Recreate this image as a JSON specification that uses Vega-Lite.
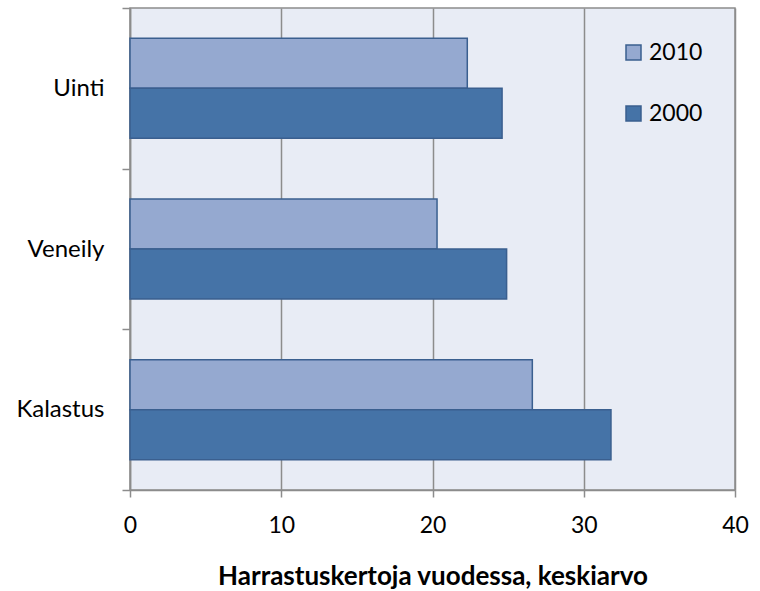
{
  "$schema": "https://vega.github.io/schema/vega-lite/v6.json",
  "width": 605,
  "height": 482,
  "autosize": {"type": "none"},
  "padding": {"left": 130, "top": 8, "right": 25, "bottom": 101},
  "background": "white",
  "config": {
    "font": "Lato",
    "view": {"fill": "#E8ECF5", "stroke": "#8C8C8C", "strokeWidth": 1.5}
  },
  "data": {
    "values": [
      {"laji": "Uinti", "vuosi": "2010", "arvo": 22.3},
      {"laji": "Uinti", "vuosi": "2000", "arvo": 24.6},
      {"laji": "Veneily", "vuosi": "2010", "arvo": 20.3},
      {"laji": "Veneily", "vuosi": "2000", "arvo": 24.9},
      {"laji": "Kalastus", "vuosi": "2010", "arvo": 26.6},
      {"laji": "Kalastus", "vuosi": "2000", "arvo": 31.8}
    ]
  },
  "mark": {"type": "bar", "stroke": "#3A5F8F", "strokeWidth": 1.5},
  "encoding": {
    "y": {
      "field": "laji",
      "type": "nominal",
      "sort": ["Uinti", "Veneily", "Kalastus"],
      "scale": {"paddingInner": 0, "paddingOuter": 0},
      "axis": {
        "title": null,
        "tickBand": "extent",
        "domainColor": "#8C8C8C",
        "domainWidth": 1.5,
        "tickColor": "#8C8C8C",
        "tickWidth": 1.5,
        "tickSize": 8,
        "labelPadding": 18,
        "labelFontSize": 24,
        "labelColor": "black",
        "grid": false
      }
    },
    "yOffset": {
      "field": "vuosi",
      "type": "nominal",
      "sort": ["2010", "2000"],
      "scale": {"paddingInner": 0, "paddingOuter": 0.607}
    },
    "x": {
      "field": "arvo",
      "type": "quantitative",
      "scale": {"domain": [0, 40], "nice": false},
      "axis": {
        "title": "Harrastuskertoja vuodessa, keskiarvo",
        "titleFontSize": 26,
        "titleFontWeight": "bold",
        "titleColor": "black",
        "titlePadding": 26,
        "values": [0, 10, 20, 30, 40],
        "grid": true,
        "gridColor": "#8C8C8C",
        "gridWidth": 1.5,
        "domainColor": "#8C8C8C",
        "domainWidth": 1.5,
        "tickColor": "#8C8C8C",
        "tickWidth": 1.5,
        "tickSize": 7,
        "labelPadding": 17,
        "labelFontSize": 23,
        "labelColor": "black",
        "labelFlush": false
      }
    },
    "color": {
      "field": "vuosi",
      "type": "nominal",
      "sort": ["2010", "2000"],
      "scale": {"domain": ["2010", "2000"], "range": ["#95A9D0", "#4573A7"]},
      "legend": {
        "title": null,
        "orient": "none",
        "legendX": 492,
        "legendY": 33,
        "symbolType": "square",
        "symbolSize": 225,
        "symbolStrokeColor": "#3A5F8F",
        "symbolStrokeWidth": 1.5,
        "labelFontSize": 23,
        "labelColor": "black",
        "labelOffset": 4,
        "rowPadding": 37
      }
    }
  }
}
